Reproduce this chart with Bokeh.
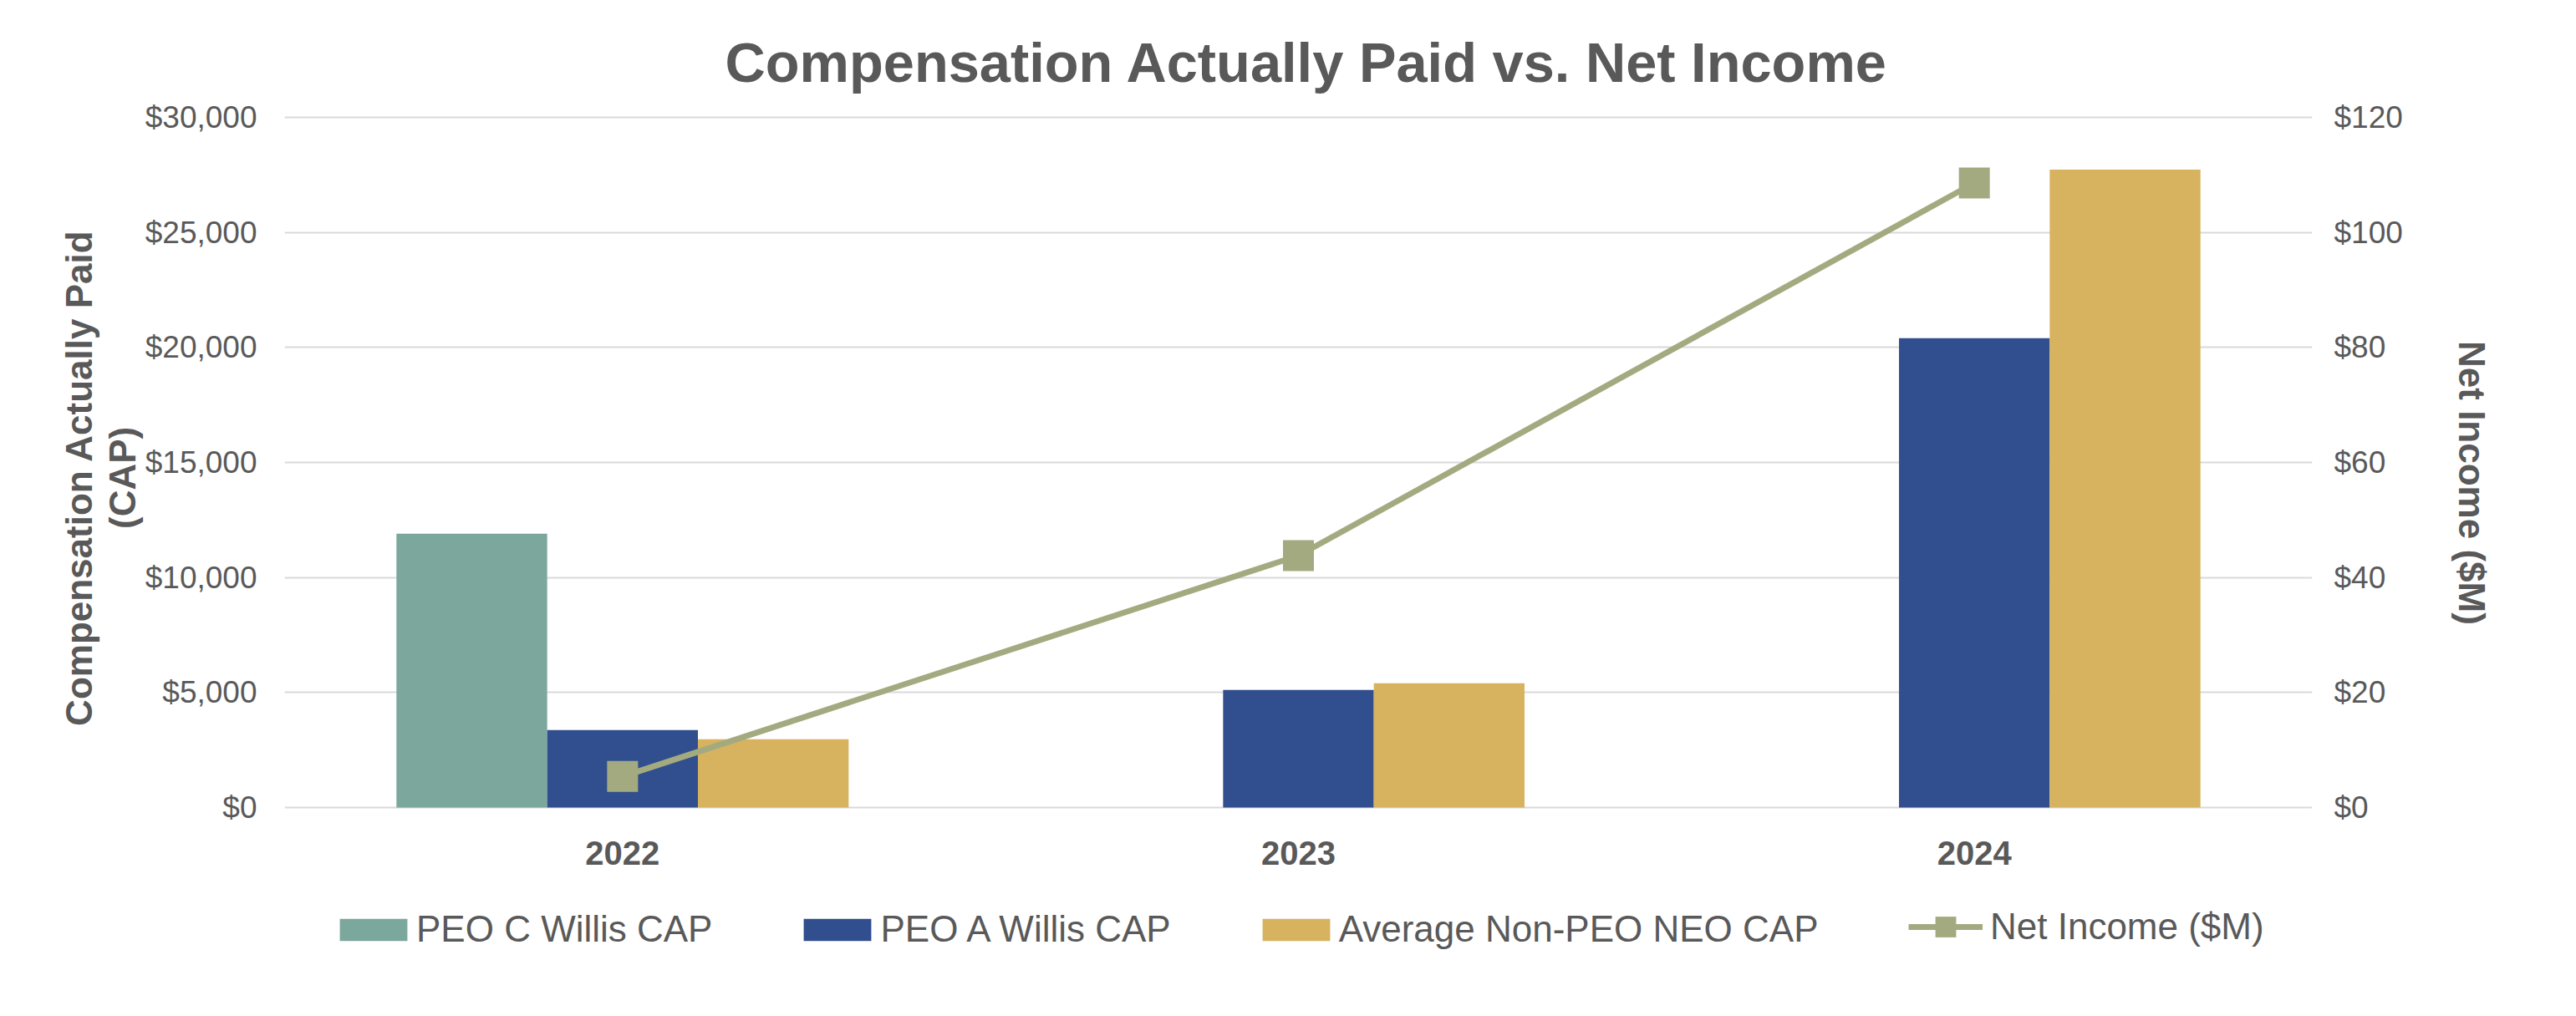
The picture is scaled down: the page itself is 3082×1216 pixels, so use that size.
from bokeh.plotting import figure
from bokeh.layouts import column
from bokeh.models import (Range1d, LinearAxis, NumeralTickFormatter, SingleIntervalTicker,
                          Legend, LegendItem, FactorRange, Title)
from bokeh.transform import dodge
from bokeh.embed import file_html
from bokeh.resources import INLINE

# ---- data ----
years = ["2022", "2023", "2024"]
peo_c_willis_cap = [11900, 0, 0]
peo_a_willis_cap = [3370, 5110, 20400]
avg_non_peo_neo_cap = [2970, 5400, 27730]
net_income_m = [5.4, 43.8, 108.6]

TEXT = "#595959"
FONT = "Liberation Sans"
C_TEAL = "#7BA79D"
C_BLUE = "#314F8E"
C_GOLD = "#D7B25F"
C_LINE = "#A4AA80"
NB = "\u00a0"

p = figure(width=3066, height=1068, x_range=FactorRange(*years), y_range=Range1d(-73, 30073),
           output_backend="svg", toolbar_location=None,
           min_border_left=340, min_border_right=300, min_border_top=138, min_border_bottom=100)
p.outline_line_color = None
p.background_fill_color = "white"
p.border_fill_color = "white"

p.title = Title(text="Compensation Actually Paid vs. Net Income", align="left",
                text_font=FONT, text_font_size="66.8px", text_font_style="bold",
                text_color=TEXT, standoff=54, offset=527)

p.extra_y_ranges = {"ni": Range1d(-0.292, 120.292)}

W = 0.223
src = dict(x=years, a=peo_c_willis_cap, b=peo_a_willis_cap, c=avg_non_peo_neo_cap, ni=net_income_m)
r1 = p.vbar(x=dodge("x", -W, range=p.x_range), top="a", width=W, source=src, color=C_TEAL, line_color=None)
r2 = p.vbar(x=dodge("x", 0, range=p.x_range), top="b", width=W, source=src, color=C_BLUE, line_color=None)
r3 = p.vbar(x=dodge("x", W, range=p.x_range), top="c", width=W, source=src, color=C_GOLD, line_color=None)
r4 = p.line(x="x", y="ni", source=src, y_range_name="ni", line_color=C_LINE, line_width=7)
r5 = p.scatter(x="x", y="ni", source=src, y_range_name="ni", marker="square", size=37,
               fill_color=C_LINE, line_color=None)

ya = p.yaxis[0]
ya.ticker = SingleIntervalTicker(interval=5000)
ya.formatter = NumeralTickFormatter(format="$0,0")
ya.axis_label = "Compensation Actually Paid" + NB * 3 + "\n(CAP)" + NB * 3

ra = LinearAxis(y_range_name="ni", ticker=SingleIntervalTicker(interval=20),
                formatter=NumeralTickFormatter(format="$0,0"),
                axis_label=NB * 4 + "Net Income ($M)")
p.add_layout(ra, "right")

for ax in [ya, ra]:
    ax.axis_line_color = None
    ax.major_tick_line_color = None
    ax.minor_tick_line_color = None
    ax.major_tick_out = 0
    ax.major_tick_in = 0
    ax.minor_tick_out = 0
    ax.major_label_text_font = FONT
    ax.major_label_text_font_size = "37px"
    ax.major_label_text_color = TEXT
    ax.axis_label_text_font = FONT
    ax.axis_label_text_font_size = "44px"
    ax.axis_label_text_font_style = "bold"
    ax.axis_label_text_color = TEXT
ya.major_label_standoff = 33
ya.axis_label_standoff = 0
ya.axis_label_text_line_height = 1.06
ra.major_label_standoff = 26
ra.axis_label_standoff = 55

xa = p.xaxis[0]
xa.axis_line_color = None
xa.major_tick_line_color = None
xa.minor_tick_line_color = None
xa.major_tick_out = 0
xa.major_tick_in = 0
xa.major_label_text_font = FONT
xa.major_label_text_font_size = "40px"
xa.major_label_text_font_style = "bold"
xa.major_label_text_color = TEXT
xa.major_label_standoff = 38

p.xgrid.grid_line_color = None
p.ygrid.grid_line_color = "#D9D9D9"
p.ygrid.grid_line_width = 2
p.ygrid.ticker = SingleIntervalTicker(interval=5000)

# ---- legend row (proxy glyphs sit outside the visible range) ----
q = figure(width=3066, height=140, x_range=Range1d(0, 1), y_range=Range1d(0, 1),
           output_backend="svg", toolbar_location=None, x_axis_location=None,
           y_axis_location=None, min_border=0)
q.outline_line_color = None
q.grid.visible = False
l1 = q.vbar(x=[-5], top=[-5], width=0.1, color=C_TEAL, line_color=None)
l2 = q.vbar(x=[-5], top=[-5], width=0.1, color=C_BLUE, line_color=None)
l3 = q.vbar(x=[-5], top=[-5], width=0.1, color=C_GOLD, line_color=None)
l4 = q.line(x=[-5, -4], y=[-5, -4], line_color=C_LINE, line_width=7)
l5 = q.scatter(x=[-5], y=[-5], marker="square", size=25, fill_color=C_LINE, line_color=None)


def style_legend(lg):
    lg.label_text_font = FONT
    lg.label_text_font_size = "44px"
    lg.label_text_color = TEXT
    lg.border_line_color = None
    lg.background_fill_alpha = 0
    lg.padding = 0
    lg.margin = 0


legend1 = Legend(items=[
    LegendItem(label="PEO C Willis CAP", renderers=[l1]),
    LegendItem(label="PEO A Willis CAP", renderers=[l2]),
    LegendItem(label="Average Non-PEO NEO CAP", renderers=[l3]),
], orientation="horizontal", location=(56, 71))
style_legend(legend1)
legend1.glyph_width = 101
legend1.glyph_height = 33
legend1.spacing = 99
legend1.label_standoff = 1
q.add_layout(legend1, "center")

legend2 = Legend(items=[
    LegendItem(label="Net Income ($M)", renderers=[l4, l5]),
], orientation="horizontal", location=(1943, 68))
style_legend(legend2)
legend2.glyph_width = 89
legend2.glyph_height = 62
legend2.label_standoff = 9
q.add_layout(legend2, "center")

open("out.html", "w").write(file_html(column(p, q), INLINE))
